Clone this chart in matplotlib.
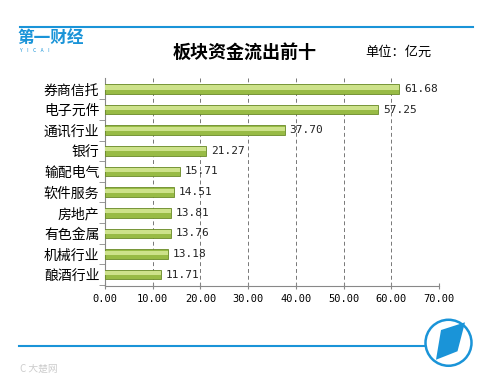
import matplotlib
matplotlib.use("Agg")
import matplotlib.pyplot as plt
from matplotlib.patches import Ellipse, Polygon
import numpy as np

plt.rcParams['font.family'] = ['Noto Sans CJK SC', 'DejaVu Sans']

# data, top to bottom as in the chart
sectors = ["券商信托", "电子元件", "通讯行业", "银行", "输配电气",
           "软件服务", "房地产", "有色金属", "机械行业", "酿酒行业"]
outflow = [61.68, 57.25, 37.70, 21.27, 15.71, 14.51, 13.81, 13.76, 13.18, 11.71]
xticks = [0, 10, 20, 30, 40, 50, 60, 70]

blue = "#1a94d8"
W, H = 500, 386
fig = plt.figure(figsize=(W / 100, H / 100), dpi=100)
ax = fig.add_axes([0.21, 0.259, 0.668, 0.54])

y = np.arange(len(sectors))[::-1]
ax.barh(y, outflow, height=0.46, color="#98bb45", edgecolor="#6a8a28", lw=0.6, zorder=3)
# lighter highlight along the top of each bar
ax.barh(y + 0.07, outflow, height=0.2, color="#cde28a", lw=0, zorder=4)

for yi, v in zip(y, outflow):
    ax.text(v + 1.0, yi, f"{v:.2f}", va="center", ha="left",
            fontsize=8, family="DejaVu Sans Mono", color="#222222", zorder=5)

ax.set_xlim(0, 70)
ax.set_ylim(-0.55, len(sectors) - 0.45)
ax.set_xticks(xticks)
ax.set_xticklabels([f"{t:.2f}" for t in xticks], family="DejaVu Sans Mono", fontsize=7.5)
ax.set_yticks(y)
ax.set_yticklabels(sectors, fontsize=10)
ax.set_yticks(np.arange(len(sectors)) - 0.5, minor=True)
ax.tick_params(axis="y", which="major", length=0, pad=4)
ax.tick_params(axis="y", which="minor", length=4, color="#888888")
ax.tick_params(axis="x", length=5, direction="inout", color="#888888", pad=3)

ax.grid(axis="x", ls=(0, (4, 3)), color="#777777", lw=0.7, zorder=0)
for s in ["top", "right"]:
    ax.spines[s].set_visible(False)
for s in ["left", "bottom"]:
    ax.spines[s].set_color("#888888")

# header
fig.add_artist(plt.Line2D([0.04, 0.946], [0.93, 0.93], color=blue, lw=1.5))
fig.text(0.034, 0.902, "第一财经", fontsize=12, color=blue, fontweight="bold", va="center")
fig.text(0.04, 0.87, "Y    I    C    A    I", fontsize=3.5, color=blue, va="center")
fig.text(0.49, 0.865, "板块资金流出前十", fontsize=13, fontweight="bold", ha="center", va="center")
fig.text(0.73, 0.865, "单位：亿元", fontsize=9.5, ha="left", va="center")

# footer
fig.add_artist(plt.Line2D([0.038, 0.85], [0.104, 0.104], color=blue, lw=1.5))
fig.add_artist(Ellipse((0.897, 0.112), 2 * 23 / W, 2 * 23 / H, transform=fig.transFigure,
                       fill=False, ec=blue, lw=1.8))
fig.add_artist(Polygon([[0.872, 0.068], [0.882, 0.145], [0.93, 0.165], [0.915, 0.09]],
                       closed=True, transform=fig.transFigure, fc=blue, ec="none"))
fig.text(0.04, 0.045, "C 大楚网", fontsize=7, color="#cccccc", va="center")

fig.savefig("out.png", dpi=100)
